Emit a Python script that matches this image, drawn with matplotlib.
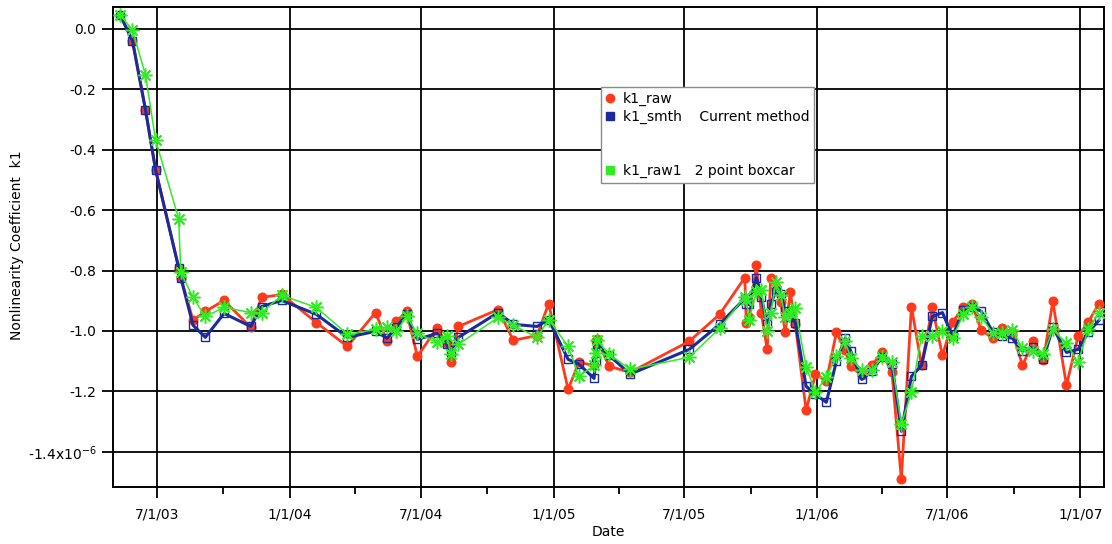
import matplotlib
matplotlib.use("Agg")
import matplotlib.pyplot as plt
import matplotlib.dates as mdates
from matplotlib.lines import Line2D
from matplotlib.ticker import FixedLocator, FixedFormatter, FuncFormatter
import numpy as np

# Measurement dates
dates = [
    "2003-05-11", "2003-05-28", "2003-06-15", "2003-06-29", "2003-07-31", "2003-08-03",
    "2003-08-20", "2003-09-06", "2003-10-02", "2003-11-08", "2003-11-23", "2003-12-21",
    "2004-02-07", "2004-03-21", "2004-04-29", "2004-05-15", "2004-05-28", "2004-06-11",
    "2004-06-26", "2004-07-23", "2004-08-06", "2004-08-11", "2004-08-22", "2004-10-16",
    "2004-11-06", "2004-12-09", "2004-12-25", "2005-01-21", "2005-02-05", "2005-02-26",
    "2005-02-28", "2005-03-02", "2005-03-19", "2005-04-17", "2005-07-08", "2005-08-19",
    "2005-09-23", "2005-09-25", "2005-09-29", "2005-10-09", "2005-10-16", "2005-10-24",
    "2005-10-29", "2005-11-05", "2005-11-12", "2005-11-18", "2005-11-25", "2005-12-02",
    "2005-12-17", "2005-12-30", "2006-01-14", "2006-01-28", "2006-02-09", "2006-02-17",
    "2006-03-04", "2006-03-18", "2006-04-01", "2006-04-15", "2006-04-28", "2006-05-12",
    "2006-05-26", "2006-06-10", "2006-06-24", "2006-07-08", "2006-07-23", "2006-08-04",
    "2006-08-17", "2006-09-02", "2006-09-15", "2006-09-29", "2006-10-13", "2006-10-28",
    "2006-11-11", "2006-11-24", "2006-12-13", "2006-12-29", "2007-01-12", "2007-01-27",
]

# Nonlinearity coefficient k1 (units of 1e-6)
k1_raw = [
    0.046, -0.039, -0.267, -0.466, -0.790, -0.823,
    -0.965, -0.935, -0.899, -0.988, -0.889, -0.879,
    -0.972, -1.051, -0.939, -1.034, -0.968, -0.935,
    -1.084, -0.991, -1.041, -1.104, -0.985, -0.929,
    -1.031, -1.015, -0.909, -1.193, -1.104, -1.114,
    -1.034, -1.028, -1.117, -1.137, -1.034, -0.945,
    -0.823, -0.972, -0.955, -0.783, -0.942, -1.061,
    -0.823, -0.856, -0.905, -1.005, -0.872, -0.978,
    -1.262, -1.143, -1.166, -1.005, -1.064, -1.117,
    -1.147, -1.114, -1.071, -1.137, -1.490, -0.919,
    -1.114, -0.922, -1.081, -0.971, -0.922, -0.912,
    -0.998, -1.024, -0.991, -1.005, -1.114, -1.034,
    -1.097, -0.902, -1.180, -1.018, -0.971, -0.909,
]

k1_smth = [
    0.046, -0.039, -0.267, -0.466, -0.790, -0.823,
    -0.981, -1.021, -0.942, -0.985, -0.919, -0.899,
    -0.945, -1.021, -1.001, -1.024, -0.988, -0.945,
    -1.028, -1.008, -1.044, -1.071, -1.021, -0.939,
    -0.978, -0.985, -0.962, -1.094, -1.110, -1.157,
    -1.100, -1.044, -1.081, -1.143, -1.061, -0.978,
    -0.892, -0.912, -0.912, -0.823, -0.889, -0.978,
    -0.912, -0.866, -0.879, -0.935, -0.955, -0.972,
    -1.183, -1.210, -1.236, -1.100, -1.024, -1.067,
    -1.160, -1.134, -1.087, -1.110, -1.332, -1.150,
    -1.114, -0.952, -0.939, -1.018, -0.929, -0.919,
    -0.935, -1.005, -1.018, -1.024, -1.067, -1.054,
    -1.094, -0.988, -1.071, -1.061, -1.005, -0.965,
]

k1_raw1 = [
    0.046, -0.003, -0.152, -0.367, -0.628, -0.806,
    -0.889, -0.952, -0.922, -0.939, -0.939, -0.882,
    -0.922, -1.011, -0.995, -0.988, -1.001, -0.952,
    -1.008, -1.038, -1.018, -1.077, -1.044, -0.955,
    -0.981, -1.021, -0.962, -1.051, -1.150, -1.114,
    -1.074, -1.031, -1.077, -1.127, -1.087, -0.991,
    -0.886, -0.896, -0.962, -0.869, -0.863, -1.001,
    -0.942, -0.839, -0.882, -0.955, -0.939, -0.925,
    -1.120, -1.203, -1.153, -1.084, -1.034, -1.091,
    -1.130, -1.130, -1.087, -1.104, -1.309, -1.203,
    -1.018, -1.018, -1.001, -1.024, -0.945, -0.919,
    -0.955, -1.008, -1.008, -0.998, -1.057, -1.067,
    -1.077, -0.995, -1.041, -1.104, -0.995, -0.939,
]

y_ticks = [0.0, -0.2, -0.4, -0.6, -0.8, -1.0, -1.2, -1.4]
y_tick_labels = ["0.0", "-0.2", "-0.4", "-0.6", "-0.8", "-1.0", "-1.2",
                 "-1.4x10$^{-6}$"]

RED = "#ff3a1c"
BLUE = "#1b2a9c"
GREEN = "#30ec22"

x = np.array(dates, dtype="datetime64[D]")

W, H = 1112, 544
fig = plt.figure(figsize=(W / 100, H / 100), dpi=100)
ax = fig.add_axes([113 / W, 1 - 487 / H, (1104 - 113) / W, (487 - 7) / H])

ax.plot(x, k1_raw, color=RED, lw=2.0, marker="o", ms=6.2, mec=RED, mfc=RED, zorder=3)
ax.plot(x, k1_smth, color=BLUE, lw=2.2, marker="s", ms=5.8, mfc="none",
        mec=BLUE, mew=1.0, zorder=4)
ax.plot(x, k1_raw1, color=GREEN, lw=1.1, marker=(8, 2, 0), ms=10, mec=GREEN,
        mew=1.1, zorder=5)

ax.set_xlim(np.datetime64("2003-05-01"), np.datetime64("2007-02-03"))
ax.set_ylim(-1.5166, 0.0728)

ax.xaxis.set_major_locator(mdates.MonthLocator(bymonth=[1, 7]))
ax.xaxis.set_minor_locator(mdates.MonthLocator(bymonth=[4, 10]))
ax.xaxis.set_major_formatter(FuncFormatter(
    lambda v, pos: (lambda d: f"{d.month}/{d.day}/{d.year % 100:02d}")(mdates.num2date(v))))

ax.yaxis.set_major_locator(FixedLocator(y_ticks))
ax.yaxis.set_major_formatter(FixedFormatter(y_tick_labels))

ax.grid(True, which="major", color="black", lw=1.3)
ax.set_axisbelow(True)
for s in ax.spines.values():
    s.set_linewidth(1.4)
    s.set_color("black")

ax.tick_params(which="major", direction="out", length=8, width=1.3,
               labelsize=10, colors="black", pad=4)
ax.tick_params(axis="x", which="major", pad=7)
ax.tick_params(which="minor", direction="out", length=5, width=1.3)

fig.text(17 / W, 1 - 245 / H, "Nonlinearity Coefficient  k1", rotation=90,
         ha="center", va="center", fontsize=10)
fig.text(608 / W, 1 - 532 / H, "Date", ha="center", va="center", fontsize=10)

handles = [
    Line2D([], [], ls="none", marker="o", ms=6, color=RED),
    Line2D([], [], ls="none", marker="s", ms=6, color=BLUE),
    Line2D([], [], ls="none"),
    Line2D([], [], ls="none"),
    Line2D([], [], ls="none", marker="s", ms=6, color=GREEN),
]
labels = ["k1_raw", "k1_smth    Current method", " ", " ", "k1_raw1   2 point boxcar"]
leg = ax.legend(handles, labels, loc="upper left",
                bbox_to_anchor=(601 / W, 1 - 87 / H), bbox_transform=fig.transFigure,
                fontsize=10, frameon=True, fancybox=False, framealpha=1,
                edgecolor="#8a8a8a", handlelength=0.6, handletextpad=0.6,
                borderpad=0.35, labelspacing=0.28, borderaxespad=0)
leg.get_frame().set_linewidth(1.0)
leg.set_zorder(10)

fig.savefig("out.png", dpi=100)
